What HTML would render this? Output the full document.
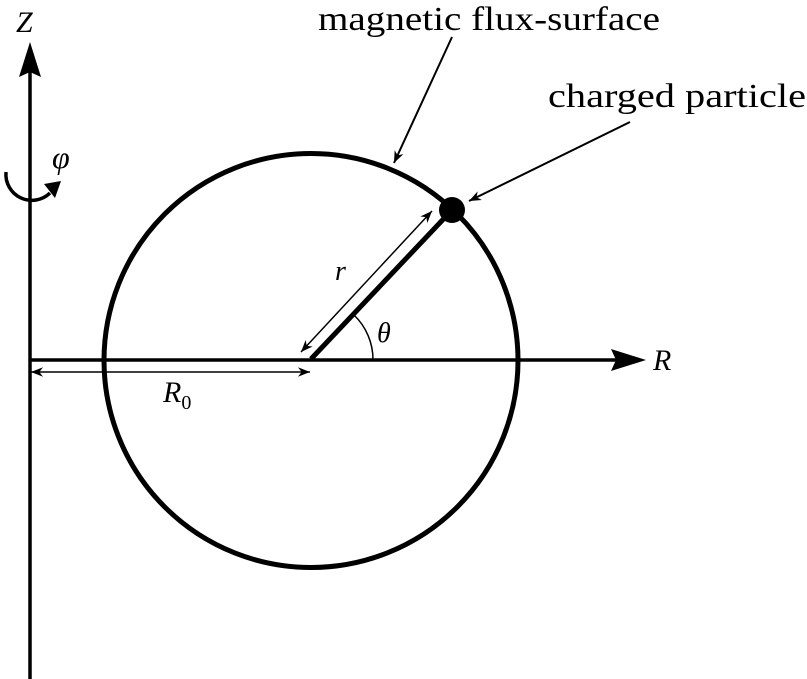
<!DOCTYPE html>
<html><head><meta charset="utf-8"><style>
html,body{margin:0;padding:0;background:#fff;}
svg{display:block;}
text{font-family:"Liberation Serif",serif;fill:#000;}
</style></head><body>
<svg width="807" height="679" viewBox="0 0 807 679" xmlns="http://www.w3.org/2000/svg">
<defs>
<marker id="sa" viewBox="0 0 10 10" refX="10" refY="5" markerWidth="12" markerHeight="12" markerUnits="userSpaceOnUse" orient="auto-start-reverse"><path d="M0,1 L10,5 L0,9 L3,5 z" fill="#000"/></marker>
</defs>
<circle cx="311" cy="360.5" r="207" fill="none" stroke="#000" stroke-width="5"/>
<line x1="30" y1="679" x2="30" y2="70" stroke="#000" stroke-width="3.5"/>
<path d="M30,42 L19,77 L30,72 L41,77 z" fill="#000"/>
<line x1="30" y1="360" x2="620" y2="360" stroke="#000" stroke-width="3.5"/>
<path d="M646,360 L611,349 L616,360 L611,371 z" fill="#000"/>
<path d="M6,172 A26,26 0 0 0 50,193" fill="none" stroke="#000" stroke-width="3.5"/>
<path d="M61,181 L44,184 L55,198 z" fill="#000"/>
<line x1="311" y1="359" x2="452" y2="210" stroke="#000" stroke-width="5"/>
<circle cx="452" cy="210" r="13" fill="#000"/>
<line x1="301" y1="352" x2="432" y2="211" stroke="#000" stroke-width="1.5" marker-start="url(#sa)" marker-end="url(#sa)"/>
<path d="M373,360 A62,62 0 0 0 354,315" fill="none" stroke="#000" stroke-width="1.5"/>
<line x1="31" y1="372" x2="310" y2="372" stroke="#000" stroke-width="1.5" marker-start="url(#sa)" marker-end="url(#sa)"/>
<line x1="452" y1="37" x2="394" y2="163" stroke="#000" stroke-width="2" marker-end="url(#sa)"/>
<line x1="630" y1="122" x2="469" y2="201" stroke="#000" stroke-width="2" marker-end="url(#sa)"/>
<text x="16" y="32" font-size="30" font-style="italic">Z</text>
<text x="52" y="168" font-size="32" font-style="italic">φ</text>
<text x="653" y="370" font-size="30" font-style="italic">R</text>
<text x="335" y="280" font-size="28" font-style="italic">r</text>
<text x="377" y="342" font-size="28" font-style="italic">θ</text>
<text x="163" y="402" font-size="30" font-style="italic">R<tspan font-size="20" font-style="normal" dy="7">0</tspan></text>
<text x="318" y="30" font-size="34" textLength="342" lengthAdjust="spacingAndGlyphs">magnetic flux-surface</text>
<text x="548" y="107" font-size="34" textLength="258" lengthAdjust="spacingAndGlyphs">charged particle</text>
</svg>
</body></html>
